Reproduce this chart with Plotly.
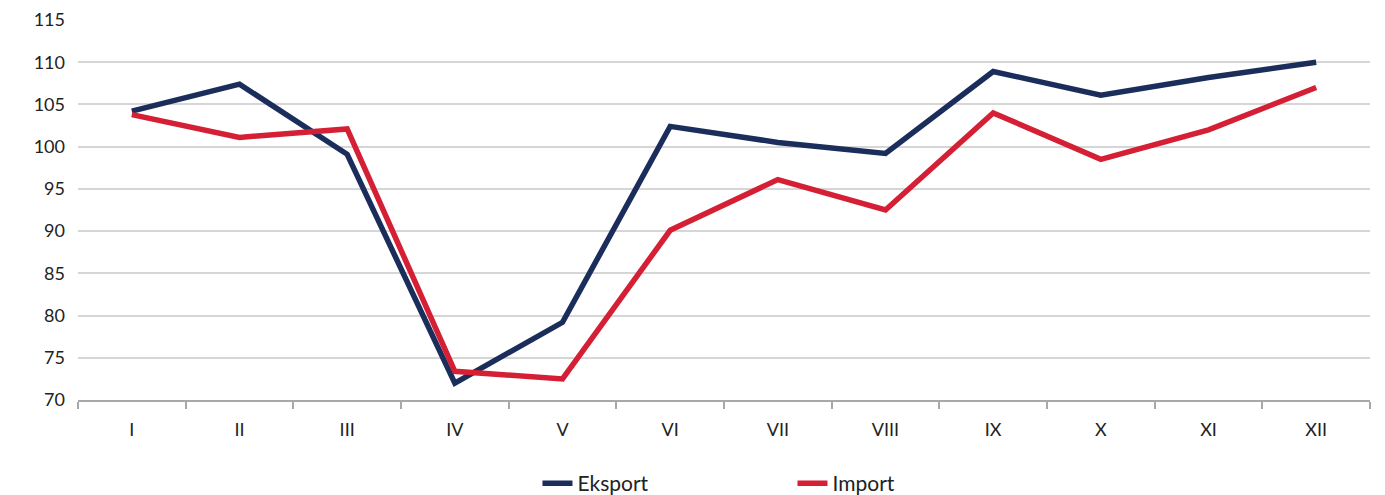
import plotly.graph_objects as go

months = ["I", "II", "III", "IV", "V", "VI", "VII", "VIII", "IX", "X", "XI", "XII"]
eksport = [104.2, 107.4, 99.1, 72.0, 79.2, 102.4, 100.5, 99.2, 108.9, 106.1, 108.2, 110.0]
uvoz = [103.8, 101.1, 102.1, 73.4, 72.5, 90.1, 96.1, 92.5, 104.0, 98.5, 102.0, 107.0]

fig = go.Figure()
fig.add_trace(go.Scatter(x=months, y=eksport, name="Eksport", mode="lines",
                         line=dict(color="#1b2d5b", width=5.5)))
fig.add_trace(go.Scatter(x=months, y=uvoz, name="Import", mode="lines",
                         line=dict(color="#d41f35", width=5.5)))

# page body has an 8px default margin, so the margins below compensate for it
fig.update_layout(
    width=1385, height=495,
    margin=dict(l=70, r=23, t=12, b=103, autoexpand=False),
    plot_bgcolor="white", paper_bgcolor="white",
    font=dict(family="Lato", size=18, color="#222222"),
    showlegend=True,
    legend=dict(orientation="h", x=0.553, xanchor="center", y=-0.22, yanchor="middle",
                entrywidth=210, font=dict(size=21)),
    xaxis=dict(range=[-0.5, 11.5], showline=True, linecolor="#a7a8ab", linewidth=2,
               ticks="outside", tickson="boundaries", ticklen=7, tickcolor="#a7a8ab",
               tickwidth=2, showgrid=False, ticklabelstandoff=12),
    yaxis=dict(range=[70, 115], dtick=5, gridcolor="#d6d6d6", gridwidth=2,
               zeroline=False, ticklabelstandoff=12),
)

fig.write_html("out.html")
